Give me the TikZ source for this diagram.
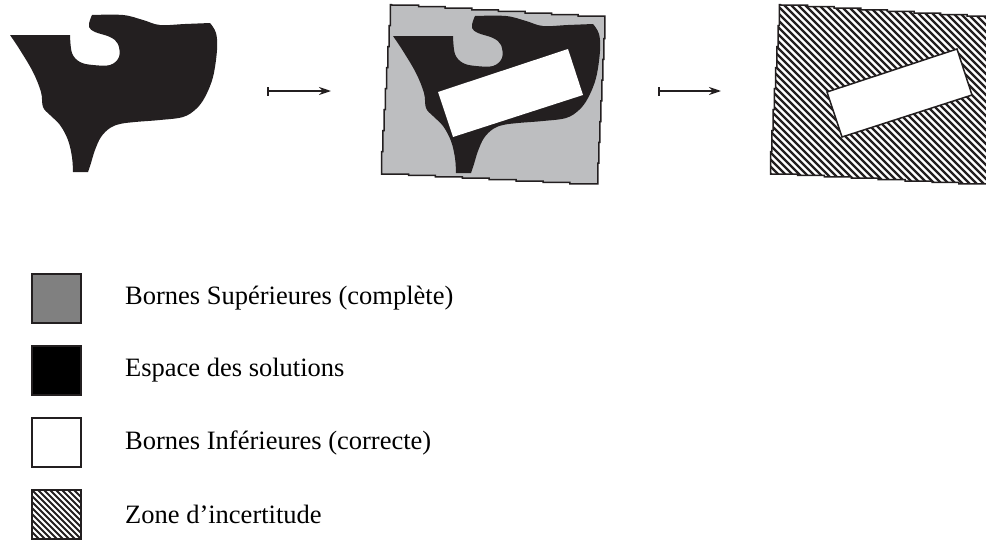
\documentclass[tikz,border=0pt]{standalone}
\usepackage{fontspec}
\setmainfont{Liberation Serif}
\usetikzlibrary{arrows.meta}
\definecolor{ink}{HTML}{231F20}
\definecolor{boundgrey}{HTML}{BDBEC0}
\definecolor{legendgrey}{HTML}{808080}

% solution space (irregular blob), pixel units, y pointing down
\newcommand{\solpath}{(10,35) -- (70,35)
  -- plot[smooth, tension=0.6] coordinates {(70,35) (72,53) (80,62) (93,65) (110,65) (119,57) (118,44) (110,37) (95,32) (89,27) (90,20) (92,15)}
  -- plot[smooth, tension=0.6] coordinates {(92,15) (123,15) (143,20) (160,25) (185,24) (210,23)}
  -- plot[smooth, tension=0.6] coordinates {(210,23) (216,33) (217,50) (213,77) (205,97) (196,109) (183,117) (160,120) (135,122) (120,124) (110,128) (101,137) (95,150) (91,163) (88,172)}
  -- (73,172)
  -- plot[smooth, tension=0.6] coordinates {(73,172) (72,157) (68,140) (60,125) (50,115) (43,107) (41,92) (33,72) (20,50) (10,35)}
  -- cycle}

% stepped (pixelated) outer bound, slightly rotated quadrilateral
\newcommand{\boundpath}{(392,5)
  \foreach \s in {1,...,8}{ -- ++(26.6,0) -- ++(0,1.6) }
  \foreach \s in {1,...,8}{ -- ++(0,20.75) -- ++(-1,0) }
  \foreach \s in {1,...,8}{ -- ++(-26.9,0) -- ++(0,-1.4) }
  \foreach \s in {1,...,8}{ -- ++(0,-21) -- ++(1.25,0) }
  -- cycle}

% inner (correct) box
\newcommand{\innerpath}{(438,92) -- (568,49) -- (583,95) -- (453,137) -- cycle}

\tikzset{
  outline/.style={draw=ink, line width=1.5},
  hatchline/.style={draw=ink, line width=2.2},
  legbox/.style={draw=ink, line width=1.5, minimum width=49, minimum height=49, inner sep=0, outer sep=0},
  legtext/.style={anchor=west, inner sep=0, font=\fontsize{26.5}{30}\selectfont},
  flow/.style={draw=ink, line width=1.6, {Bar[width=9]}-{Stealth[length=12, width=8]}}
}

\begin{document}
\begin{tikzpicture}[x=1pt, y=-1pt]
\useasboundingbox (0,0) rectangle (986,541);
\clip (0,0) rectangle (986,541);

% --- step 1: solution space
\fill[ink] \solpath;

% --- step 2: upper bound, solution space, lower bound
\fill[boundgrey] \boundpath;
\fill[ink, shift={(383,1)}] \solpath;
\fill[white] \innerpath;
\draw[outline] \boundpath;

% --- step 3: uncertainty zone
\begin{scope}[shift={(389,0)}]
  \begin{scope}
    \clip \boundpath;
    \foreach \k in {-200,-193,...,240}
      \draw[hatchline] (380+\k,0) -- ++(200,200);
  \end{scope}
  \draw[outline] \boundpath;
  \filldraw[fill=white, draw=ink, line width=1.5] \innerpath;
\end{scope}

% --- arrows between steps
\coordinate (a1s) at (267,91);
\coordinate (a1e) at (331,91);
\coordinate (a2s) at (658,91);
\coordinate (a2e) at (721,91);
\draw[flow] (a1s) -- (a1e);
\draw[flow] (a2s) -- (a2e);

% --- legend
\node[legbox, fill=legendgrey] (k1) at (56.5,298.5) {};
\node[legbox, fill=black]      (k2) at (56.5,370.5) {};
\node[legbox, fill=white]      (k3) at (56.5,442.5) {};
\begin{scope}
  \clip (32,490) rectangle (81,539);
  \foreach \k in {-60,-54,...,60}
    \draw[draw=ink, line width=2] (32+\k,490) -- ++(60,60);
\end{scope}
\node[legbox] (k4) at (56.5,514.5) {};

\node[legtext] (t1) at (125,298.5) {Bornes Supérieures (complète)};
\node[legtext] (t2) at (125,370.5) {Espace des solutions};
\node[legtext] (t3) at (125,442.5) {Bornes Inférieures (correcte)};
\node[legtext] (t4) at (125,514.5) {Zone d’incertitude};
\end{tikzpicture}
\end{document}
